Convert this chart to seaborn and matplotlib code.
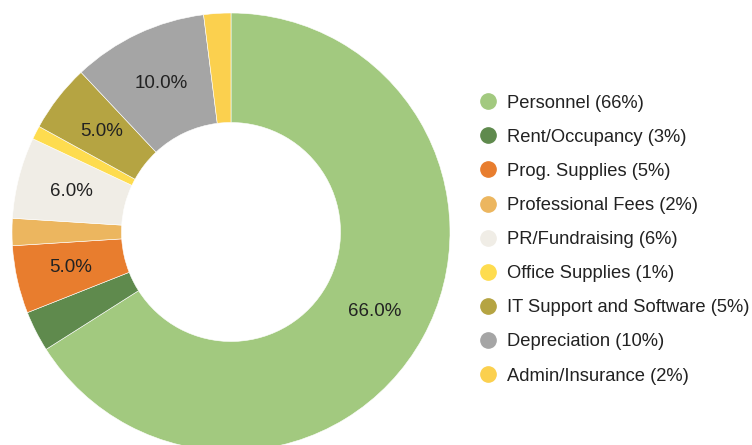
import matplotlib
matplotlib.use("Agg")
import matplotlib.pyplot as plt
import seaborn as sns
from matplotlib.lines import Line2D

# Data
categories = ['Personnel', 'Rent/Occupancy', 'Prog. Supplies', 'Professional Fees',
              'PR/Fundraising', 'Office Supplies', 'IT Support and Software',
              'Depreciation', 'Admin/Insurance']
shares = [66, 3, 5, 2, 6, 1, 5, 10, 2]
colors = ['#a2c97f', '#5f8a4d', '#e87d2e', '#ecb65f', '#f0ede6',
          '#fedc4f', '#b5a442', '#a5a5a5', '#fbd04e']

sns.set_theme(style="white")
plt.rcParams['font.family'] = ['Liberation Sans', 'DejaVu Sans']

fig = plt.figure(figsize=(7.52, 4.45), dpi=100)
W, H = 752, 445
cx, cy, r = 231, 232, 219
ax = fig.add_axes([(cx - r) / W, (H - cy - r) / H, 2 * r / W, 2 * r / H])

wedges, _, autotexts = ax.pie(
    shares,
    colors=colors,
    startangle=90,
    counterclock=False,
    radius=1,
    autopct=lambda p: f'{p:.1f}%' if p >= 4.5 else '',
    pctdistance=0.75,
    wedgeprops=dict(width=0.5, edgecolor='white', linewidth=0.4),
    textprops=dict(fontsize=13.5, color='#222222'),
)
ax.set_xlim(-1, 1)
ax.set_ylim(-1, 1)
ax.set_aspect('equal')
ax.axis('off')

# Legend
handles = [Line2D([0], [0], marker='o', linestyle='', markersize=11,
                  markerfacecolor=c, markeredgecolor=c) for c in colors]
labels = [f'{n} ({v}%)' for n, v in zip(categories, shares)]
fig.legend(handles, labels, loc='upper left',
           bbox_to_anchor=(481 / W, 1 - 94.5 / H), frameon=False,
           fontsize=13.2, labelspacing=0.935, handlelength=0.8,
           handletextpad=0.62, borderaxespad=0, borderpad=0,
           labelcolor='#222222')

fig.savefig('out.png', dpi=100)
